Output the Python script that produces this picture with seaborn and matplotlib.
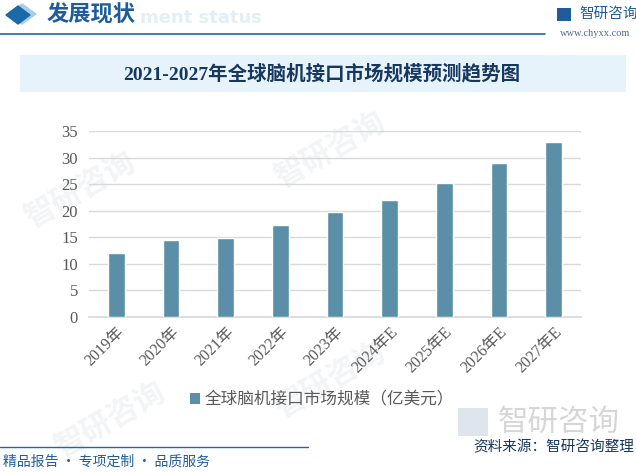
import matplotlib
matplotlib.use("Agg")
import matplotlib.pyplot as plt
import seaborn as sns
import pandas as pd
from matplotlib.patches import Rectangle, Polygon, Patch

# ---- data ----
years = ["2019年", "2020年", "2021年", "2022年", "2023年", "2024年E", "2025年E", "2026年E", "2027年E"]
values = [12.0, 14.5, 14.9, 17.3, 19.8, 22.0, 25.2, 29.0, 33.0]
yticks = [0, 5, 10, 15, 20, 25, 30, 35]
series_name = "全球脑机接口市场规模（亿美元）"
chart_title = "2021-2027年全球脑机接口市场规模预测趋势图"
header = "发展现状"
header_bg = "ment status"
footer_left = "精品报告 · 专项定制 · 品质服务"
footer_right = "资料来源：智研咨询整理"
brand = "智研咨询"
site = "www.chyxx.com"

sns.set_theme(style="white")
plt.rcParams['font.family'] = ['Noto Sans CJK SC', 'DejaVu Sans']
serif_cjk = ['Liberation Serif', 'Noto Sans CJK SC']

W, H = 636, 472
fig = plt.figure(figsize=(W / 100, H / 100), dpi=100)
fig.patch.set_facecolor("white")

def fx(x): return x / W
def fy(y): return 1 - y / H

# ---- faint watermarks (behind everything) ----
for (x, y) in [(80, 190), (330, 150), (110, 420), (330, 380)]:
    fig.text(fx(x), fy(y), brand, fontsize=22, color="#f2f4f6", rotation=30,
             ha="center", va="center", zorder=-5, fontweight="bold")

# ---- header ----
fig.patches.append(Polygon([[fx(22), fy(4)], [fx(36), fy(14)], [fx(22), fy(24)], [fx(8), fy(14)]],
                           closed=True, transform=fig.transFigure, color="#a9cde8", zorder=1))
fig.patches.append(Polygon([[fx(18), fy(6)], [fx(30), fy(15)], [fx(18), fy(24)], [fx(6), fy(15)]],
                           closed=True, transform=fig.transFigure, color="#1a6aa8", zorder=2))
fig.text(fx(140), fy(18), header_bg, fontsize=13, color="#e3eff8", fontweight="bold",
         ha="left", va="center", zorder=1, family="DejaVu Sans")
fig.text(fx(47), fy(15), header, fontsize=16, color="#1f5c99", fontweight="bold",
         ha="left", va="center", zorder=3)
fig.add_artist(plt.Line2D([0, fx(545)], [fy(34), fy(34)], color="#1a6aa8", lw=1.2))
# logo top right
fig.patches.append(Rectangle((fx(557), fy(21)), fx(14), 13 / H, transform=fig.transFigure,
                             facecolor="#1f5c99", edgecolor="none"))
fig.text(fx(579), fy(14), brand, fontsize=10.5, color="#1f5c99", ha="left", va="center")
fig.text(fx(595), fy(33), site, fontsize=7.5, color="#4a6b8a", ha="center", va="center",
         family="Liberation Serif")

# ---- title box ----
fig.patches.append(Rectangle((fx(20), fy(92)), fx(606), 37 / H, transform=fig.transFigure,
                             facecolor="#e6f3fb", edgecolor="none", zorder=1))
fig.text(fx(322), fy(74), chart_title, fontsize=14, color="#17375e", fontweight="bold",
         ha="center", va="center", zorder=2, family=serif_cjk)

# ---- main axes ----
ax = fig.add_axes([fx(89), fy(317), fx(581) - fx(89), (317 - 131) / H])
ax.set_zorder(2)
ax.set_facecolor("none")
df = pd.DataFrame({"year": years, "value": values})
sns.barplot(data=df, x="year", y="value", color="#5b8fa8", saturation=1, width=0.31, ax=ax, zorder=3)
ax.set_xlim(-0.5, len(years) - 0.5)
ax.set_ylim(0, 35)
ax.set_yticks(yticks)
ax.set_yticklabels([str(t) for t in yticks], fontsize=12, color="#595959", family=serif_cjk)
ax.set_xticks(range(len(years)))
ax.set_xticklabels(years, fontsize=11.5, color="#595959", rotation=45, ha="right",
                   rotation_mode="anchor", family=serif_cjk)
ax.tick_params(axis="y", length=0, pad=8)
ax.tick_params(axis="x", length=0, pad=5)
ax.set_xlabel("")
ax.set_ylabel("")
ax.yaxis.grid(True, color="#d9d9d9", lw=1)
ax.set_axisbelow(True)
for s in ["top", "right", "left"]:
    ax.spines[s].set_visible(False)
ax.spines["bottom"].set_color("#d9d9d9")

fig.legend(handles=[Patch(facecolor="#5b8fa8", edgecolor="none", label=series_name)],
           loc="center", bbox_to_anchor=(fx(322), fy(400)), frameon=False,
           handlelength=0.6, handleheight=0.6, handletextpad=0.3,
           prop={"size": 12}, labelcolor="#595959")

# ---- bottom logo watermark ----
fig.patches.append(Rectangle((fx(458), fy(436)), fx(30), 28 / H, transform=fig.transFigure,
                             facecolor="#dfe5ec", edgecolor="none", zorder=0))
fig.text(fx(498), fy(422), brand, fontsize=22, color="#d6d6d6", ha="left", va="center", zorder=0)

# ---- footer ----
fig.add_artist(plt.Line2D([0, fx(308)], [fy(447), fy(447)], color="#1a6aa8", lw=1))
fig.text(fx(3), fy(462), footer_left, fontsize=10, color="#1f5c99", ha="left", va="center")
fig.text(fx(634), fy(447), footer_right, fontsize=10.5, color="#17375e", ha="right", va="center", zorder=3)

fig.savefig("out.png", dpi=100)
